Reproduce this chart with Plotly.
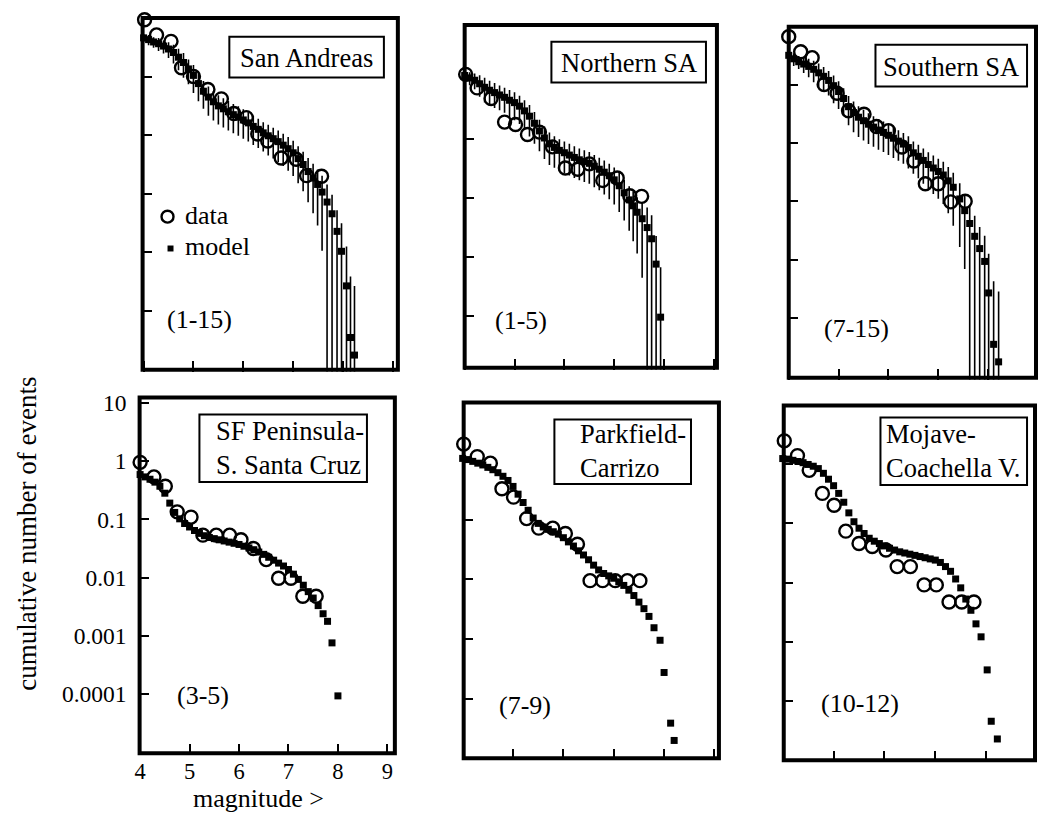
import numpy as np
import plotly.graph_objects as go

W, H = 1039, 813
FONT = "Liberation Serif, Times New Roman, serif"

# ---------------- data ----------------
# log10 of cumulative number of events ; magnitudes on x
grid_4_to_7_4 = [4.0, 4.1, 4.2, 4.3, 4.4, 4.5, 4.6, 4.7, 4.8, 4.9,
                 5.0, 5.1, 5.2, 5.3, 5.4, 5.5, 5.6, 5.7, 5.8, 5.9,
                 6.0, 6.1, 6.2, 6.3, 6.4, 6.5, 6.6, 6.7, 6.8, 6.9,
                 7.0, 7.1, 7.2, 7.3, 7.4]

# --- San Andreas (1-15)
sa_data_mag = [4.02, 4.26, 4.55, 4.76, 5.0, 5.29, 5.56, 5.81, 6.06, 6.29, 6.49, 6.76, 7.06, 7.27, 7.57]
sa_data_log = [0.97, 0.71, 0.60, 0.15, 0.0, -0.22, -0.38, -0.63, -0.70, -0.98, -1.10, -1.39, -1.41, -1.69, -1.70]
sa_model_mag = grid_4_to_7_4 + [7.49, 7.58, 7.68, 7.78, 7.88, 7.97, 8.07, 8.15, 8.23]
sa_model_log = [0.66, 0.63, 0.59, 0.56, 0.52, 0.47, 0.41, 0.33, 0.24, 0.13,
                0.02, -0.12, -0.25, -0.35, -0.43, -0.50, -0.55, -0.60, -0.65, -0.69,
                -0.74, -0.79, -0.85, -0.90, -0.96, -1.01, -1.06, -1.11, -1.17, -1.23,
                -1.30, -1.40, -1.50, -1.62, -1.73, -1.84,
                -1.97, -2.14, -2.34, -2.64, -2.98, -3.57, -4.45, -4.75]
sa_model_relerr = [0.15, 0.2, 0.2, 0.25, 0.25, 0.3, 0.35, 0.4, 0.45, 0.45,
                   0.5, 0.5, 0.5, 0.52, 0.52, 0.52, 0.52, 0.52, 0.52, 0.52,
                   0.52, 0.52, 0.52, 0.52, 0.52, 0.54, 0.54, 0.55, 0.56, 0.58,
                   0.6, 0.62, 0.65, 0.7, 0.75, 0.8,
                   0.9, 1.0, 1.1, 1.3, 2.0, 3.7, 10, 14]

# --- Northern SA (1-5)
nsa_data_mag = [4.02, 4.25, 4.53, 4.80, 5.02, 5.26, 5.5, 5.76, 6.02, 6.27, 6.5, 6.77, 7.06, 7.31, 7.55]
nsa_data_log = [0.10, -0.13, -0.31, -0.71, -0.75, -0.92, -0.88, -1.13, -1.49, -1.51, -1.42, -1.70, -1.66, -1.96, -1.97]
nsa_model_mag = grid_4_to_7_4[:34] + [7.38, 7.46, 7.56, 7.66, 7.75, 7.84, 7.93]
nsa_model_log = [0.08, 0.04, 0.0, -0.06, -0.12, -0.17, -0.21, -0.25, -0.29, -0.34,
                 -0.38, -0.44, -0.52, -0.61, -0.73, -0.86, -0.98, -1.08, -1.14, -1.19,
                 -1.23, -1.27, -1.31, -1.35, -1.38, -1.41, -1.46, -1.51, -1.56, -1.62,
                 -1.69, -1.79, -1.91, -2.03,
                 -2.13, -2.24, -2.35, -2.50, -2.69, -3.12, -4.02]
nsa_model_relerr = [0.2, 0.25, 0.3, 0.4, 0.45, 0.45, 0.45, 0.45, 0.45, 0.5,
                    0.5, 0.5, 0.52, 0.55, 0.55, 0.55, 0.56, 0.56, 0.55, 0.55,
                    0.55, 0.55, 0.55, 0.55, 0.55, 0.55, 0.56, 0.56, 0.58, 0.6,
                    0.62, 0.64, 0.66, 0.7,
                    0.75, 0.8, 0.9, 1.2, 1.5, 2.0, 6.0]

# --- Southern SA (7-15)
ssa_data_mag = [4.0, 4.24, 4.47, 4.71, 4.97, 5.2, 5.51, 5.76, 6.0, 6.27, 6.51, 6.74, 7.0, 7.25, 7.54]
ssa_data_log = [0.82, 0.56, 0.46, 0.0, -0.15, -0.45, -0.51, -0.72, -0.79, -1.07, -1.31, -1.70, -1.70, -2.01, -2.0]
ssa_model_mag = grid_4_to_7_4[:34] + [7.43, 7.53, 7.63, 7.73, 7.83, 7.93, 8.01, 8.11, 8.21]
ssa_model_log = [0.50, 0.44, 0.39, 0.35, 0.31, 0.26, 0.20, 0.14, 0.07, -0.02,
                 -0.12, -0.24, -0.38, -0.48, -0.56, -0.62, -0.68, -0.73, -0.78, -0.82,
                 -0.87, -0.92, -0.97, -1.02, -1.08, -1.17, -1.23, -1.30, -1.37, -1.43,
                 -1.49, -1.55, -1.65, -1.76,
                 -1.96, -2.16, -2.38, -2.60, -2.81, -3.03, -3.57, -4.45, -4.75]
ssa_model_relerr = [0.2, 0.25, 0.25, 0.3, 0.35, 0.4, 0.45, 0.45, 0.45, 0.5,
                    0.5, 0.5, 0.52, 0.54, 0.54, 0.54, 0.54, 0.54, 0.54, 0.54,
                    0.54, 0.54, 0.54, 0.54, 0.56, 0.56, 0.58, 0.6, 0.62, 0.64,
                    0.66, 0.68, 0.72, 0.78,
                    0.85, 0.9, 1.1, 1.25, 1.35, 1.75, 3.7, 11, 15]

# --- SF Peninsula - S. Santa Cruz (3-5)
sfp_data_mag = [4.0, 4.28, 4.51, 4.75, 5.03, 5.27, 5.54, 5.81, 6.04, 6.29, 6.55, 6.80, 7.05, 7.29, 7.56]
sfp_data_log = [-0.02, -0.27, -0.43, -0.87, -0.96, -1.27, -1.27, -1.27, -1.35, -1.50, -1.69, -2.01, -2.01, -2.32, -2.32]
sfp_model_mag = grid_4_to_7_4 + [7.5, 7.6, 7.7, 7.79, 7.88, 8.0]
sfp_model_log = [-0.23, -0.27, -0.31, -0.36, -0.43, -0.55, -0.72, -0.88, -0.99, -1.07,
                 -1.13, -1.19, -1.24, -1.28, -1.31, -1.33, -1.35, -1.37, -1.39, -1.41,
                 -1.43, -1.46, -1.49, -1.52, -1.56, -1.60, -1.65, -1.70, -1.75, -1.80,
                 -1.86, -1.94, -2.03, -2.13, -2.24, -2.35, -2.48, -2.62,
                 -2.75, -3.12, -4.03]

# --- Parkfield - Carrizo (7-9)
pc_data_mag = [4.02, 4.29, 4.55, 4.78, 5.01, 5.27, 5.51, 5.79, 6.04, 6.28, 6.53, 6.78, 7.03, 7.27, 7.52]
pc_data_log = [0.27, 0.06, -0.05, -0.48, -0.62, -0.98, -1.14, -1.14, -1.23, -1.41, -2.02, -2.02, -2.02, -2.02, -2.02]
pc_model_mag = grid_4_to_7_4 + [7.5, 7.6, 7.7, 7.8, 7.92, 8.0, 8.13, 8.2]
pc_model_log = [0.03, 0.01, -0.02, -0.05, -0.08, -0.12, -0.16, -0.21, -0.27, -0.34,
                -0.44, -0.57, -0.71, -0.84, -0.97, -1.06, -1.12, -1.16, -1.20, -1.24,
                -1.30, -1.37, -1.44, -1.52, -1.59, -1.67, -1.76, -1.84, -1.90, -1.94,
                -1.98, -2.04, -2.10, -2.18, -2.27, -2.38, -2.49, -2.62, -2.81,
                -3.02, -3.56, -4.41, -4.70]

# --- Mojave - Coachella V. (10-12)
mc_data_mag = [4.03, 4.29, 4.52, 4.78, 5.01, 5.24, 5.50, 5.76, 6.03, 6.25, 6.51, 6.78, 7.02, 7.27, 7.52, 7.76]
mc_data_log = [0.40, 0.15, -0.10, -0.49, -0.69, -1.13, -1.34, -1.39, -1.45, -1.73, -1.73, -2.04, -2.04, -2.33, -2.33, -2.33]
mc_model_mag = grid_4_to_7_4 + [7.5, 7.6, 7.7, 7.8, 7.9, 8.02, 8.1, 8.22]
mc_model_log = [0.10, 0.09, 0.07, 0.05, 0.03, 0.0, -0.03, -0.07, -0.15, -0.25,
                -0.36, -0.49, -0.64, -0.82, -0.97, -1.08, -1.17, -1.25, -1.30, -1.34,
                -1.38, -1.42, -1.45, -1.48, -1.50, -1.52, -1.54, -1.56, -1.58, -1.60,
                -1.62, -1.66, -1.73, -1.81, -1.94, -2.09, -2.28, -2.47, -2.70, -2.92,
                -3.48, -4.35, -4.65]

panel_titles = ["San Andreas", "Northern SA", "Southern SA",
                "SF Peninsula-<br>S. Santa Cruz", "Parkfield-<br>Carrizo", "Mojave-<br>Coachella V."]
panel_ranges = ["(1-15)", "(1-5)", "(7-15)", "(3-5)", "(7-9)", "(10-12)"]
legend_labels = ["data", "model"]
y_tick_vals = [10, 1, 0.1, 0.01, 0.001, 0.0001]
y_tick_text = ["10", "1", "0.1", "0.01", "0.001", "0.0001"]
x_tick_vals = [4, 5, 6, 7, 8, 9]
x_tick_text = ["4", "5", "6", "7", "8", "9"]

# ---------------- layout geometry (pixels of the page) ----------------
LW = 4   # frame line width
panels = [
    dict(frame=(140, 396, 13, 367), x4=141, ppm=50, y1=72, ppd=59,
         data=(sa_data_mag, sa_data_log), model=(sa_model_mag, sa_model_log), err=sa_model_relerr,
         box=(227, 382, 32, 73), title_xy=(304.5, 53), title_left=False, rng_xy=(197, 316)),
    dict(frame=(463, 716, 20, 365), x4=463, ppm=50, y1=75.7, ppd=59.3,
         data=(nsa_data_mag, nsa_data_log), model=(nsa_model_mag, nsa_model_log), err=nsa_model_relerr,
         box=(550, 705, 37, 78), title_xy=(627.5, 58), title_left=False, rng_xy=(519, 317)),
    dict(frame=(788, 1036, 22, 375), x4=788, ppm=50, y1=80, ppd=58.75,
         data=(ssa_data_mag, ssa_data_log), model=(ssa_model_mag, ssa_model_log), err=ssa_model_relerr,
         box=(875, 1027, 40, 82), title_xy=(951, 62), title_left=False, rng_xy=(856, 325)),
    dict(frame=(137, 393, 395, 753), x4=137.5, ppm=49.6, y1=459, ppd=58.6,
         data=(sfp_data_mag, sfp_data_log), model=(sfp_model_mag, sfp_model_log), err=None,
         box=(197, 365, 412, 480), title_xy=(212, 446), title_left=True, rng_xy=(201, 695)),
    dict(frame=(462, 718, 400, 758), x4=461, ppm=50.5, y1=458, ppd=60,
         data=(pc_data_mag, pc_data_log), model=(pc_model_mag, pc_model_log), err=None,
         box=(553, 690, 417, 482), title_xy=(577, 449), title_left=True, rng_xy=(524, 705)),
    dict(frame=(783, 1035, 403, 760), x4=782, ppm=51, y1=462.3, ppd=59.4,
         data=(mc_data_mag, mc_data_log), model=(mc_model_mag, mc_model_log), err=None,
         box=(880, 1027, 415, 483), title_xy=(884, 449), title_left=True, rng_xy=(859, 703)),
]

fig = go.Figure()
layout = dict(width=W, height=H, autosize=False,
              margin=dict(l=0, r=0, t=0, b=0),
              paper_bgcolor="white", plot_bgcolor="white",
              font=dict(family=FONT, color="black"),
              showlegend=False)
shapes, annotations = [], []


def px(x):
    return x / W


def py(y):
    return 1 - y / H


for i, p in enumerate(panels):
    k = "" if i == 0 else str(i + 1)
    L, R, T, B = p["frame"]
    # plot area spans to the outer edge of the frame so that points on the frame are kept
    l, r, t, b = L - LW / 2, R + LW / 2, T - LW / 2, B + LW / 2
    xr = [4 + (l - p["x4"]) / p["ppm"], 4 + (r - p["x4"]) / p["ppm"]]
    yr = [(p["y1"] - b) / p["ppd"], (p["y1"] - t) / p["ppd"]]
    show_labels = (i == 3)
    layout["xaxis" + k] = dict(domain=[px(l), px(r)], range=xr, anchor="y" + k,
                               showline=False, ticks="inside", ticklen=11, tickwidth=2,
                               tickcolor="black", tickvals=x_tick_vals, ticktext=x_tick_text,
                               showticklabels=show_labels, ticklabelstandoff=0,
                               tickfont=dict(family=FONT, size=22.5, color="black"),
                               showgrid=False, zeroline=False, fixedrange=True)
    layout["yaxis" + k] = dict(domain=[py(b), py(t)], range=yr, type="log", anchor="x" + k,
                               showline=False, ticks="inside", ticklen=11, tickwidth=2,
                               tickcolor="black", tickvals=y_tick_vals, ticktext=y_tick_text,
                               showticklabels=show_labels, ticklabelstandoff=10,
                               tickfont=dict(family=FONT, size=23.5, color="black"),
                               showgrid=False, zeroline=False, fixedrange=True)

    mm, ml = p["model"]
    ym = 10 ** np.array(ml)
    err_y = None
    if p["err"] is not None:
        rel = np.array(p["err"])
        floor = 10 ** yr[0]
        lo = np.maximum(ym * (1 - rel), floor)
        err_y = dict(type="data", symmetric=False, array=ym * rel, arrayminus=ym - lo,
                     color="black", thickness=1.6, width=0)
    fig.add_trace(go.Scatter(x=mm, y=ym, mode="markers", name="model",
                             marker=dict(symbol="square", size=7, color="black"),
                             error_y=err_y, cliponaxis=False,
                             xaxis="x" + k, yaxis="y" + k))
    dm, dl = p["data"]
    fig.add_trace(go.Scatter(x=dm, y=10 ** np.array(dl), mode="markers", name="data",
                             marker=dict(symbol="circle-open", size=13, color="black",
                                         line=dict(width=2.4, color="black")),
                             cliponaxis=False, xaxis="x" + k, yaxis="y" + k))

    # thick panel frame
    shapes.append(dict(type="rect", xref="paper", yref="paper",
                       x0=px(L), x1=px(R), y0=py(B), y1=py(T),
                       line=dict(color="black", width=LW), fillcolor="rgba(0,0,0,0)",
                       layer="above"))
    # boxed region name
    bx0, bx1, by0, by1 = p["box"]
    shapes.append(dict(type="rect", xref="paper", yref="paper",
                       x0=px(bx0), x1=px(bx1), y0=py(by1), y1=py(by0),
                       line=dict(color="black", width=2), fillcolor="white", layer="above"))
    tx, ty = p["title_xy"]
    annotations.append(dict(text=panel_titles[i], xref="paper", yref="paper",
                            x=px(tx), y=py(ty),
                            xanchor="left" if p["title_left"] else "center", yanchor="middle",
                            align="left", showarrow=False,
                            font=dict(family=FONT, size=26.5, color="black")))
    rx, ry = p["rng_xy"]
    annotations.append(dict(text=panel_ranges[i], xref="paper", yref="paper",
                            x=px(rx), y=py(ry), xanchor="center", yanchor="middle",
                            showarrow=False, font=dict(family=FONT, size=26, color="black")))

# key drawn inside the San Andreas panel: open circle = data, small square = model
shapes.append(dict(type="circle", xref="paper", yref="paper",
                   x0=px(159), x1=px(171), y0=py(219), y1=py(207),
                   line=dict(color="black", width=2.4), fillcolor="rgba(0,0,0,0)"))
shapes.append(dict(type="rect", xref="paper", yref="paper",
                   x0=px(165), x1=px(171), y0=py(248), y1=py(242),
                   line=dict(color="black", width=0), fillcolor="black"))
annotations.append(dict(text=legend_labels[0], xref="paper", yref="paper",
                        x=px(181), y=py(212), xanchor="left", yanchor="middle",
                        showarrow=False, font=dict(family=FONT, size=26, color="black")))
annotations.append(dict(text=legend_labels[1], xref="paper", yref="paper",
                        x=px(181), y=py(243), xanchor="left", yanchor="middle",
                        showarrow=False, font=dict(family=FONT, size=26, color="black")))

annotations.append(dict(text="cumulative number of events", xref="paper", yref="paper",
                        x=px(24), y=py(532), textangle=-90, xanchor="center", yanchor="middle",
                        showarrow=False, font=dict(family=FONT, size=27, color="black")))
annotations.append(dict(text="magnitude >", xref="paper", yref="paper",
                        x=px(256), y=py(798.5), xanchor="center", yanchor="middle",
                        showarrow=False, font=dict(family=FONT, size=26, color="black")))

layout["shapes"] = shapes
layout["annotations"] = annotations
fig.update_layout(**layout)

fig.write_html("out.html", config={"displayModeBar": False},
               post_script="document.body.style.margin='0';document.body.style.overflow='hidden';")
